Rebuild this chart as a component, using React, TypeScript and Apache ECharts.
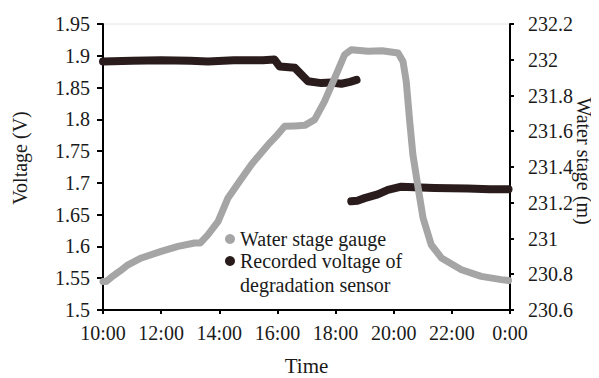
import React, { useEffect, useRef } from "react";
import * as echarts from "echarts";

// X tick labels (hours 10..24)
const timeLabels = ["10:00", "12:00", "14:00", "16:00", "18:00", "20:00", "22:00", "0:00"];

// Water stage gauge (right axis, m)
const stageHours = [10.0, 10.11, 10.34, 10.6, 10.86, 11.32, 12.0, 12.58, 13.15, 13.35, 13.61, 13.96, 14.3, 14.7, 15.1, 15.68, 16.0, 16.25, 16.6, 16.94, 17.28, 17.62, 17.97, 18.31, 18.54, 19.12, 19.6, 20.15, 20.32, 20.43, 20.55, 20.66, 20.84, 21.01, 21.29, 21.64, 22.33, 23.01, 23.7, 23.95];
const stageValues = [230.76, 230.76, 230.79, 230.82, 230.853, 230.891, 230.928, 230.956, 230.975, 230.975, 231.021, 231.096, 231.227, 231.32, 231.413, 231.525, 231.58, 231.628, 231.63, 231.633, 231.665, 231.767, 231.898, 232.028, 232.056, 232.047, 232.05, 232.038, 231.99, 231.88, 231.656, 231.469, 231.283, 231.115, 230.965, 230.891, 230.825, 230.788, 230.77, 230.765];

// Recorded voltage of degradation sensor (left axis, V) - first segment
const voltHoursA = [10.0, 11.0, 12.0, 13.0, 13.61, 14.5, 15.5, 15.9, 16.08, 16.6, 17.05, 17.51, 17.85, 18.2, 18.5, 18.72];
const voltValuesA = [1.891, 1.892, 1.893, 1.892, 1.891, 1.893, 1.893, 1.894, 1.883, 1.881, 1.86, 1.857, 1.858, 1.856, 1.859, 1.862];
// second segment
const voltHoursB = [18.54, 18.75, 19.0, 19.45, 19.8, 20.26, 20.7, 21.4, 22.55, 23.3, 23.95];
const voltValuesB = [1.671, 1.672, 1.676, 1.682, 1.689, 1.694, 1.693, 1.692, 1.691, 1.69, 1.69];

const STAGE_NAME = "Water stage gauge";
const VOLT_NAME = "Recorded voltage of degradation sensor";

const FONT = '"Liberation Serif", "Times New Roman", serif';
const GREY = "#a5a5a5";
const DARK = "#2a1c1c";
const TXT = "#1a1a1a";

const zip = (xs: number[], ys: number[]) => xs.map((x, i) => [x, ys[i]]);

export default function App() {
  const ref = useRef<HTMLDivElement>(null);
  useEffect(() => {
    if (!ref.current) return;
    const chart = echarts.init(ref.current, undefined, { renderer: "svg" });
    chart.setOption({
      animation: false,
      textStyle: { fontFamily: FONT, color: TXT },
      grid: {
        left: 95,
        right: 97,
        top: 16,
        bottom: 76,
        show: true,
        borderColor: "#e4e4e4",
        borderWidth: 1,
        containLabel: false,
        outerBoundsMode: "none",
      },
      legend: {
        orient: "vertical",
        left: 217,
        top: 221,
        padding: 0,
        itemGap: 2,
        itemWidth: 10,
        itemHeight: 10,
        data: [
          { name: STAGE_NAME, icon: "circle" },
          { name: VOLT_NAME, icon: "circle" },
        ],
        formatter: (n: string) => (n === VOLT_NAME ? "Recorded voltage of" : n),
        textStyle: { fontFamily: FONT, fontSize: 20, color: TXT, lineHeight: 20 },
      },
      graphic: [
        {
          type: "text",
          left: 232,
          top: 267,
          style: { text: "degradation sensor", fontFamily: FONT, fontSize: 20, fill: TXT },
        },
      ],
      xAxis: {
        type: "value",
        min: 10,
        max: 24,
        interval: 2,
        name: "Time",
        nameLocation: "middle",
        nameGap: 45,
        nameTextStyle: { fontFamily: FONT, fontSize: 21, color: TXT },
        axisLine: { lineStyle: { color: "#000", width: 2 } },
        axisTick: { inside: false, length: 4, lineStyle: { color: "#000", width: 2 } },
        splitLine: { show: false },
        axisLabel: {
          margin: 13,
          fontFamily: FONT,
          fontSize: 20,
          color: TXT,
          formatter: (v: number) => timeLabels[Math.round((v - 10) / 2)] ?? "",
        },
      },
      yAxis: [
        {
          type: "value",
          position: "left",
          min: 1.5,
          max: 1.95,
          interval: 0.05,
          name: "Voltage (V)",
          nameLocation: "middle",
          nameGap: 73,
          nameMoveOverlap: false,
          nameTextStyle: { fontFamily: FONT, fontSize: 20, color: TXT, padding: [0, 0, 0, 18] },
          axisLine: { show: true, lineStyle: { color: "#000", width: 2 } },
          axisTick: { show: true, length: 6, lineStyle: { color: "#000", width: 2 } },
          splitLine: { show: false },
          axisLabel: {
            margin: 13,
            fontFamily: FONT,
            fontSize: 20,
            color: TXT,
            formatter: (v: number) => String(+v.toFixed(2)),
          },
        },
        {
          type: "value",
          position: "right",
          min: 230.6,
          max: 232.2,
          interval: 0.2,
          name: "Water stage (m)",
          nameLocation: "middle",
          nameGap: 64,
          nameRotate: -90,
          nameMoveOverlap: false,
          nameTextStyle: { fontFamily: FONT, fontSize: 20, color: TXT, padding: [0, 12, 0, 0] },
          axisLine: { show: true, lineStyle: { color: "#000", width: 2 } },
          axisTick: { show: true, length: 4, lineStyle: { color: "#000", width: 2 } },
          splitLine: { show: false },
          axisLabel: {
            margin: 18,
            fontFamily: FONT,
            fontSize: 20,
            color: TXT,
            formatter: (v: number) => String(+v.toFixed(1)),
          },
        },
      ],
      series: [
        {
          name: VOLT_NAME,
          type: "line",
          yAxisIndex: 0,
          data: zip(voltHoursA, voltValuesA),
          showSymbol: false,
          symbol: "circle",
          color: DARK,
          lineStyle: { color: DARK, width: 8, cap: "round", join: "round" },
          z: 2,
        },
        {
          name: VOLT_NAME,
          type: "line",
          yAxisIndex: 0,
          data: zip(voltHoursB, voltValuesB),
          showSymbol: false,
          symbol: "circle",
          color: DARK,
          lineStyle: { color: DARK, width: 8, cap: "round", join: "round" },
          z: 2,
        },
        {
          name: STAGE_NAME,
          type: "line",
          yAxisIndex: 1,
          data: zip(stageHours, stageValues),
          showSymbol: false,
          symbol: "circle",
          color: GREY,
          lineStyle: { color: GREY, width: 7, cap: "round", join: "round" },
          z: 3,
        },
      ],
    });
    return () => chart.dispose();
  }, []);
  return <div ref={ref} style={{ width: 599, height: 378 }} />;
}
